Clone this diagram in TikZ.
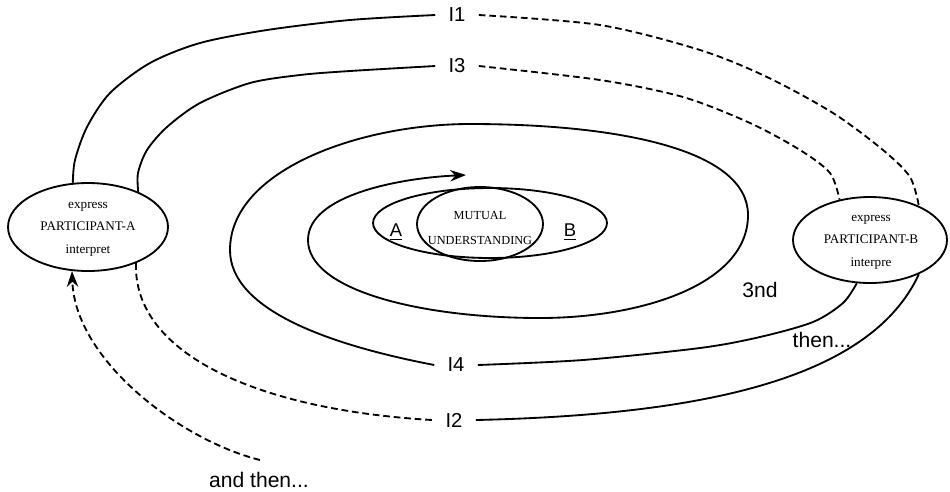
\documentclass[tikz,border=0pt]{standalone}
\usepackage{fontspec}
\setmainfont{Liberation Serif}
\newfontfamily\arialf{Liberation Sans}
\usetikzlibrary{shapes.geometric,arrows.meta}
\begin{document}
\begin{tikzpicture}[x=0.02cm,y=-0.02cm,
  ell/.style={draw, ellipse, line width=1.05pt, inner sep=0pt},
  ln/.style={line width=1.05pt},
  dsh/.style={line width=1.05pt, dash pattern=on 3.8pt off 2.2pt},
  lab/.style={font=\arialf\fontsize{11.5}{13}\selectfont, inner xsep=0.26cm, inner ysep=1pt},
  note/.style={font=\arialf\fontsize{12}{14}\selectfont, inner sep=0pt},
  ptxt/.style={font=\fontsize{7.5}{12.8}\selectfont, align=center, inner sep=0pt},
  mtxt/.style={font=\fontsize{7}{14.2}\selectfont, align=center, inner sep=0pt},
  abtxt/.style={font=\arialf\fontsize{10.5}{12}\selectfont, inner sep=0pt},
  tip/.style={-{Stealth[length=9pt,width=6.5pt]}}
]
\useasboundingbox (0,0) rectangle (950,491);

% participants
\node[ell, minimum width=3.2cm, minimum height=1.76cm] (pA) at (88,227) {};
\node[ptxt] (pAt) at (88,229) {express\\PARTICIPANT-A\\interpret};
\node[ell, minimum width=3.08cm, minimum height=1.72cm] (pB) at (870,240) {};
\node[ptxt] (pBt) at (871,242) {express\\PARTICIPANT-B\\interpre};

% centre
\node[ell, minimum width=4.68cm, minimum height=1.4cm] (ab) at (490,223) {};
\node[ell, minimum width=2.52cm, minimum height=1.48cm] (mu) at (480,224) {};
\node[mtxt] (mut) at (480,228) {MUTUAL\\UNDERSTANDING};
\node[abtxt] (la) at (396,232) {\underline{A}};
\node[abtxt] (lb) at (570,232) {\underline{B}};

% labels
\node[lab] (l1) at (457,15) {I1};
\node[lab] (l3) at (457,66) {I3};
\node[lab] (l4) at (456,365) {I4};
\node[lab] (l2) at (454,420) {I2};
\node[note] (t3) at (760,290) {3nd};
\node[note] (tth) at (822,340) {then...};
\node[note] (tat) at (259,480) {and then...};
\coordinate (st) at (260,460);

% I1
\draw[ln] plot[smooth] coordinates {(pA.109) (75,160) (87,127) (110,93) (150,63) (200,43) (267,30) (350,20) (l1.west)};
\draw[dsh] plot[smooth] coordinates {(l1.east) (600,25) (700,50) (767,77) (833,113) (883,150) (910,177) (pB.35)};
% I3
\draw[ln] plot[smooth] coordinates {(pA.35) (138,173) (147,150) (167,127) (200,103) (250,83) (300,75) (350,71) (l3.west)};
\draw[dsh] plot[smooth] coordinates {(l3.east) (600,80) (683,97) (750,123) (800,150) (830,173) (pB.127)};
% I2
\draw[dsh] (pA.-37) .. controls (133,355) and (260,410) .. (l2.west);
\draw[ln] (l2.east) .. controls (700,415) and (870,380) .. (pB.325);
% I4 right
\draw[ln] plot[smooth] coordinates {(l4.east) (583,360) (700,348) (760,337) (813,322) (843,303) (pB.253)};
% spiral from I4
\draw[ln, tip] (l4.west) .. controls (330,345) and (230,310) .. (230,250)
  .. controls (230,170) and (360,124) .. (470,124)
  .. controls (620,124) and (748,150) .. (748,215)
  .. controls (748,285) and (640,318) .. (540,318)
  .. controls (420,318) and (308,290) .. (308,240)
  .. controls (308,195) and (400,178) .. (466,175);
% and then arrow
\draw[dsh, tip] (st) .. controls (180,440) and (75,360) .. (pA.250);
\end{tikzpicture}
\end{document}
